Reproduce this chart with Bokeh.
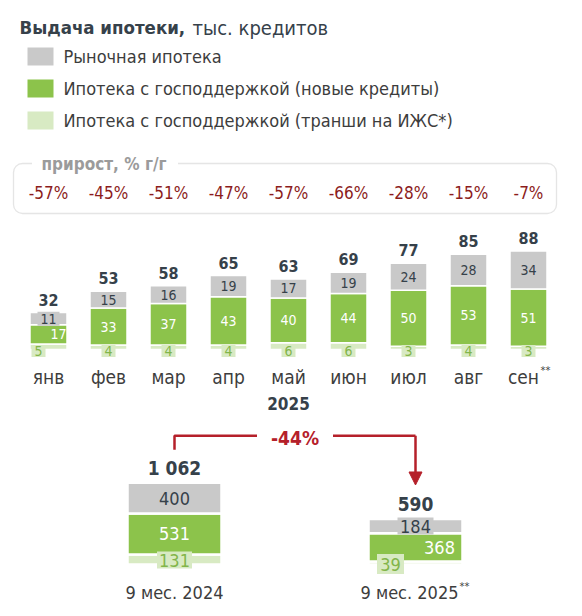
import numpy as np
from bokeh.plotting import figure
from bokeh.models import Range1d, BoxAnnotation, Arrow, NormalHead
from bokeh.layouts import column
from bokeh.embed import file_html
from bokeh.resources import INLINE
from bokeh.core.properties import value

# ---------------- data ----------------
title_bold = "Выдача ипотеки,"
title_rest = "тыс. кредитов"
legend_labels = ["Рыночная ипотека",
                 "Ипотека с господдержкой (новые кредиты)",
                 "Ипотека с господдержкой (транши на ИЖС*)"]
growth_title = "прирост, % г/г"

months = ["янв", "фев", "мар", "апр", "май", "июн", "июл", "авг", "сен"]
month_notes = ["", "", "", "", "", "", "", "", "**"]
year_label = "2025"
market = [11, 15, 16, 19, 17, 19, 24, 28, 34]
state_new = [17, 33, 37, 43, 40, 44, 50, 53, 51]
state_izhs = [5, 4, 4, 4, 6, 6, 3, 4, 3]
totals = [32, 53, 58, 65, 63, 69, 77, 85, 88]
growth = [-57, -45, -51, -47, -57, -66, -28, -15, -7]

periods = ["9 мес. 2024", "9 мес. 2025"]
period_notes = ["", "**"]
p_market = [400, 184]
p_state_new = [531, 368]
p_state_izhs = [131, 39]
p_totals = [1062, 590]

# ---------------- style ----------------
FONT = value("'DejaVu Sans Condensed', 'Liberation Sans', sans-serif")
GREY = "#c9c9c9"
GREEN = "#8cc34b"
LIGHT = "#d8eac3"
DARK = "#36414a"
TXT = "#3d3d3d"
LGTEXT = "#82b54a"
RED = "#b5202a"
DRED = "#8c1c1c"
W = 574


def mk(h, xr, yr):
    p = figure(width=W, height=h, x_range=xr, y_range=yr, output_backend="svg",
               toolbar_location=None, x_axis_location=None, y_axis_location=None,
               min_border=0, outline_line_color=None)
    p.grid.visible = False
    return p


def txt(p, x, y, t, size, color, bold=False, align="center", baseline="middle",
        x_offset=0, level=None):
    kw = dict(x=x, y=y, text=t, text_font=FONT, text_font_size=f"{size}px",
              text_color=color, text_align=align, text_baseline=baseline,
              x_offset=x_offset)
    if bold:
        kw["text_font_style"] = "bold"
    if level:
        kw["level"] = level
    p.text(**kw)


# ---------------- header ----------------
ph = mk(150, Range1d(0, W), Range1d(150, 0))
txt(ph, [19], [27], [title_bold], 18.5, DARK, bold=True, align="left")
txt(ph, [192], [27], [title_rest], 20, DARK, align="left")
sw_y = [56, 88, 120]
ph.rect(x=40, y=sw_y, width=26, height=18, fill_color=[GREY, GREEN, LIGHT], line_color=None)
txt(ph, [63] * 3, sw_y, legend_labels, 18, TXT, align="left")

# ---------------- monthly ----------------
PX2 = 1.12   # px per unit
STEP = 60.0  # px per month
pm = mk(270, Range1d(-48 / STEP, -48 / STEP + W / STEP), Range1d(-71 / PX2, 199 / PX2))
idx = np.arange(len(months))
iz = np.array(state_izhs)
nw = np.array(state_new)
mk_ = np.array(market)
b1 = iz
b2 = iz + nw
tp = b2 + mk_
bw = 37 / STEP
pm.vbar(x=idx, width=bw, bottom=0, top=b1, fill_color=LIGHT, line_color="white", line_width=1.5)
pm.vbar(x=idx, width=bw, bottom=b1, top=b2, fill_color=GREEN, line_color="white", line_width=1.5)
pm.vbar(x=idx, width=bw, bottom=b2, top=tp, fill_color=GREY, line_color="white", line_width=1.5)

# segment labels
pm.rect(x=idx, y=b2 + mk_ / 2, width=22, height=14, width_units="screen", height_units="screen",
        fill_color=GREY, line_color=None)
txt(pm, idx, b2 + mk_ / 2, [str(v) for v in market], 14, DARK)
green_dx = [10, 0, 0, 0, 0, 0, 0, 0, 0]
txt(pm, idx, b1 + nw / 2, [str(v) for v in state_new], 14, "white", x_offset=green_dx)
light_dx = np.array([-10, 0, 0, 0, 0, 0, 0, 0, 0])
pm.rect(x=idx + light_dx / STEP, y=-1.5 / PX2, width=14, height=12, width_units="screen",
        height_units="screen", fill_color=LIGHT, line_color=None)
txt(pm, idx + light_dx / STEP, [-1.5 / PX2] * len(idx), [str(v) for v in state_izhs], 14, LGTEXT)
txt(pm, idx, tp + 13 / PX2, [str(v) for v in totals], 16, DARK, bold=True)

# month labels
m_dx = [-5 if n else 0 for n in month_notes]
txt(pm, idx, [-27 / PX2] * len(idx), months, 19, TXT, x_offset=m_dx)
note_i = [i for i, n in enumerate(month_notes) if n]
txt(pm, idx[note_i], [-21 / PX2] * len(note_i), [month_notes[i] for i in note_i], 11, TXT,
    align="left", x_offset=12)
txt(pm, [idx.mean()], [-54 / PX2], [year_label], 17, DARK, bold=True)

# growth box
g_top = (349 - 163) / PX2
g_bot = (349 - 213) / PX2
pm.add_layout(BoxAnnotation(left=-35 / STEP, right=idx[-1] + 28 / STEP, top=g_top, bottom=g_bot,
                            fill_color=None, line_color="#a9a9a9", line_width=1.3,
                            border_radius=9))
pm.rect(x=[56.5 / STEP], y=[g_top], width=146, height=8, width_units="screen",
        height_units="screen", fill_color="white", line_color=None, level="overlay")
txt(pm, [-7 / STEP], [g_top], [growth_title], 17, "#9b9b9b", bold=True, align="left", level="overlay")
txt(pm, idx, [(349 - 192) / PX2] * len(idx), [f"{g}%" for g in growth], 17, DRED)

# ---------------- 9 months ----------------
PX3 = 0.077
STEP3 = 241.0
pa = mk(188, Range1d(-174 / STEP3, -174 / STEP3 + W / STEP3), Range1d(-44 / PX3, 144 / PX3))
xi = np.arange(len(periods))
a1 = np.array(p_state_izhs)
a2 = a1 + np.array(p_state_new)
at = a2 + np.array(p_market)
bw3 = 94 / STEP3
pa.vbar(x=xi, width=bw3, bottom=0, top=a1, fill_color=LIGHT, line_color="white", line_width=2.5)
pa.vbar(x=xi, width=bw3, bottom=a1, top=a2, fill_color=GREEN, line_color="white", line_width=2.5)
pa.vbar(x=xi, width=bw3, bottom=a2, top=at, fill_color=GREY, line_color="white", line_width=2.5)

pa.rect(x=xi, y=a2 + np.array(p_market) / 2, width=36, height=17, width_units="screen",
        height_units="screen", fill_color=GREY, line_color=None)
txt(pa, xi, a2 + np.array(p_market) / 2, [str(v) for v in p_market], 18, DARK)
txt(pa, xi, a1 + np.array(p_state_new) / 2, [str(v) for v in p_state_new], 18, "white",
    x_offset=[0, 24])
l_dx = np.array([0, -25])
l_dy = np.array([4.5, 0.5])
pa.rect(x=xi + l_dx / STEP3, y=l_dy / PX3, width=[35, 27], height=[17, 20], width_units="screen",
        height_units="screen", fill_color=LIGHT, line_color=None)
txt(pa, xi + l_dx / STEP3, l_dy / PX3, [str(v) for v in p_state_izhs], 18, LGTEXT)
txt(pa, xi, at + 15 / PX3, [f"{v:,}".replace(",", " ") for v in p_totals], 19, DARK, bold=True)

p_dx = [-6 if n else 0 for n in period_notes]
txt(pa, xi, [-28 / PX3] * len(xi), periods, 18, TXT, x_offset=p_dx)
pn_i = [i for i, n in enumerate(period_notes) if n]
txt(pa, xi[pn_i], [-22 / PX3] * len(pn_i), [period_notes[i] for i in pn_i], 11, TXT,
    align="left", x_offset=44)

# change arrow
chg = round((p_totals[1] / p_totals[0] - 1) * 100)
y_lo = at[0] + 33 / PX3
y_hi = y_lo + 14 / PX3
gap = 38 / STEP3
mid = xi.mean()
pa.line(x=[xi[0], xi[0], mid - gap], y=[y_lo, y_hi, y_hi], line_color=RED, line_width=2.5)
pa.line(x=[mid + gap, xi[1]], y=[y_hi, y_hi], line_color=RED, line_width=2.5)
pa.add_layout(Arrow(x_start=xi[1], y_start=y_hi, x_end=xi[1], y_end=at[1] + 34 / PX3,
                    line_color=RED, line_width=2.5,
                    end=NormalHead(size=13, fill_color=RED, line_color=RED)))
txt(pa, [mid], [y_hi - 2 / PX3], [f"{chg}%"], 19, RED, bold=True)

page = column(ph, pm, pa)
open("out.html", "w").write(file_html(page, INLINE))
